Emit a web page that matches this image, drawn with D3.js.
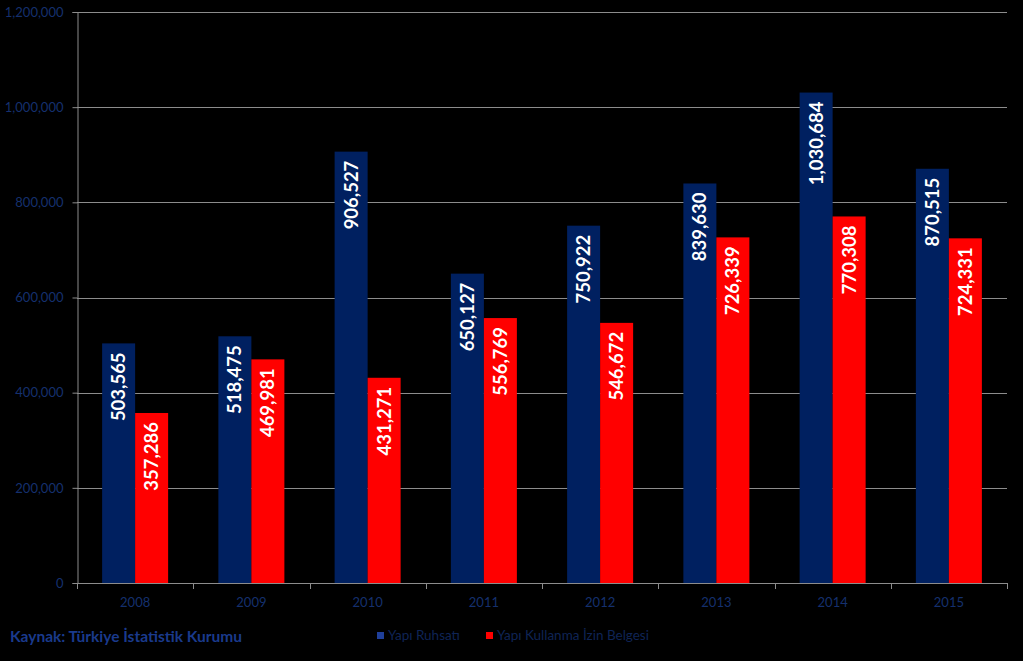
<!DOCTYPE html>
<html><head><meta charset="utf-8">
<script src="https://cdn.jsdelivr.net/npm/d3@7/dist/d3.min.js"></script>
<style>body{margin:0;background:#000}svg{display:block}</style>
</head><body>
<svg id="c" width="1023" height="661"></svg>
<script>
const years = ["2008","2009","2010","2011","2012","2013","2014","2015"];
const ruhsat = [503565,518475,906527,650127,750922,839630,1030684,870515];
const iskan = [357286,469981,431271,556769,546672,726339,770308,724331];
const yTicks = [0,200000,400000,600000,800000,1000000,1200000];
const seriesNames = ["Yapı Ruhsatı","Yapı Kullanma İzin Belgesi"];
const colors = ["#002060","#FF0000"];
const source = "Kaynak: Türkiye İstatistik Kurumu";

const svg = d3.select("#c");
svg.append("rect").attr("width",1023).attr("height",661).attr("fill","#000");
const L=77,R=1007,T=12,B=583;
const x = d3.scaleBand().domain(years).range([L,R]).paddingInner(0).paddingOuter(0);
const y = d3.scaleLinear().domain([0,1200000]).range([B,T]);
const fmt = d3.format(",");
const font = "Lato, 'Open Sans', sans-serif";
const axisCol = "#15306e";

// gridlines
svg.append("g").selectAll("line").data(yTicks.filter(d=>d>0)).join("line")
  .attr("x1",L).attr("x2",R).attr("y1",d=>Math.round(y(d))+0.5).attr("y2",d=>Math.round(y(d))+0.5)
  .attr("stroke","#8c8c8c").attr("stroke-width",1);

// y axis
const ya = svg.append("g").attr("transform",`translate(${L+0.5},0)`)
  .call(d3.axisLeft(y).tickValues(yTicks).tickFormat(fmt).tickSize(5).tickPadding(9));
ya.select(".domain").attr("stroke","#8c8c8c");
ya.selectAll(".tick line").attr("stroke","#8c8c8c");
ya.selectAll("text").attr("fill",axisCol).attr("font-family",font).attr("font-size",13);

// x axis
const xa = svg.append("g").attr("transform",`translate(0,${B+0.5})`)
  .call(d3.axisBottom(x).tickSize(0).tickPadding(14));
xa.select(".domain").attr("stroke","#8c8c8c").attr("d",`M${L},0H${R}`);
xa.selectAll("text").attr("fill",axisCol).attr("font-family",font).attr("font-size",13);
svg.append("g").selectAll("line").data(years.concat(["end"])).join("line")
  .attr("x1",(d,i)=>Math.round(L+i*x.bandwidth())+0.5).attr("x2",(d,i)=>Math.round(L+i*x.bandwidth())+0.5)
  .attr("y1",B).attr("y2",B+6).attr("stroke","#8c8c8c");

// bars
const bw = 33, off = (x.bandwidth()-2*bw)/2;
[ruhsat,iskan].forEach((vals,s)=>{
  const g = svg.append("g");
  g.selectAll("rect").data(vals).join("rect")
    .attr("x",(d,i)=>x(years[i])+off+s*bw).attr("width",bw)
    .attr("y",d=>y(d)).attr("height",d=>B-y(d)).attr("fill",colors[s]);
  g.selectAll("text").data(vals).join("text")
    .attr("transform",(d,i)=>`translate(${x(years[i])+off+s*bw+bw/2+6.5},${y(d)+9}) rotate(-90)`)
    .attr("text-anchor","end").attr("fill","#fff").attr("font-family",font)
    .attr("font-weight","bold").attr("font-size",18.5).text(d=>fmt(d));
});

// source
svg.append("text").attr("x",10).attr("y",642).attr("fill","#1a3a8c").attr("font-family",font)
  .attr("font-weight","bold").attr("font-size",15.5).text(source);

// legend
const lg = svg.append("g");
const lx=[377,486];
seriesNames.forEach((n,i)=>{
  lg.append("rect").attr("x",lx[i]).attr("y",632).attr("width",7).attr("height",7).attr("fill",i==0?"#1f3f9a":colors[1]);
  lg.append("text").attr("x",lx[i]+11).attr("y",640).attr("fill","#0f2455").attr("font-family",font)
    .attr("font-size",13.5).text(n);
});
</script>
</body></html>
